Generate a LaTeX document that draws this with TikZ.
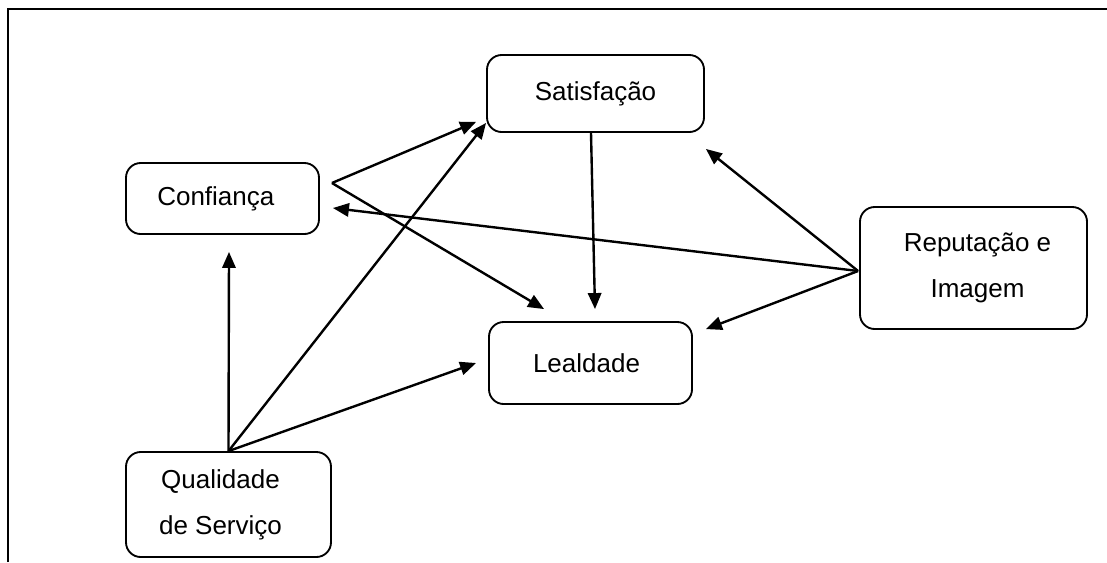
\documentclass[tikz,border=0pt]{standalone}
\usepackage{fontspec}
\setmainfont{Liberation Sans}
\usetikzlibrary{calc,arrows.meta}
\begin{document}
\begin{tikzpicture}[x=0.75pt,y=-0.75pt,
  box/.style={draw,line width=1.4pt,rounded corners=11pt,inner sep=0pt,align=center,
    font=\fontsize{19.5}{34.5}\selectfont},
  arr/.style={line width=1.8pt,-{Triangle[length=12pt,width=10pt]}},
  frame/.style={line width=1.8pt}]
\useasboundingbox (0,0) rectangle (1107,562);
\draw[frame] (8,562) -- (8,9) -- (1107,9);
\node[box,minimum width=217*0.75pt,minimum height=77*0.75pt] (sat) at (595.5,93.5) {Satisfação};
\node[box,minimum width=193*0.75pt,minimum height=71*0.75pt] (conf) at (222.5,198.5) {Confiança\hspace*{10pt}};
\node[box,minimum width=203*0.75pt,minimum height=82*0.75pt] (leal) at (590.5,363) {Lealdade\hspace*{6pt}};
\node[box,minimum width=227*0.75pt,minimum height=122*0.75pt] (rep) at (973.5,268) {\hspace*{6pt}Reputação e\\\hspace*{6pt}Imagem};
\node[box,minimum width=205*0.75pt,minimum height=105*0.75pt] (qual) at (228.5,504.5) {Qualidade\hspace*{12pt}\\de Serviço\hspace*{12pt}};
\coordinate (ch) at ($(conf.east)+(12,-15.5)$);
\coordinate (rh) at ($(rep.west)+(-1,3)$);
\coordinate (qh) at (qual.north);
% from Confianca
\draw[arr] (ch) -- ($(sat.south west)+(-10,-11)$);
\draw[arr] (ch) -- ($(leal.north west)+(56,-12)$);
% from Reputacao
\draw[arr] (rh) -- ($(conf.east)+(13,9.5)$);
\draw[arr] (rh) -- ($(sat.south east)+(1,16)$);
\draw[arr] (rh) -- ($(leal.north east)+(13,8)$);
% Satisfacao -> Lealdade
\draw[arr] ($(sat.south)+(-4.5,0)$) -- ($(leal.north)+(4.5,-12)$);
% from Qualidade
\draw[arr] (qh) -- ($(conf.south)+(6.5,17)$);
\draw[arr] (qh) -- ($(sat.south west)+(0,-10)$);
\draw[arr] (qh) -- ($(leal.west)+(-12,0)$);
\end{tikzpicture}
\end{document}
